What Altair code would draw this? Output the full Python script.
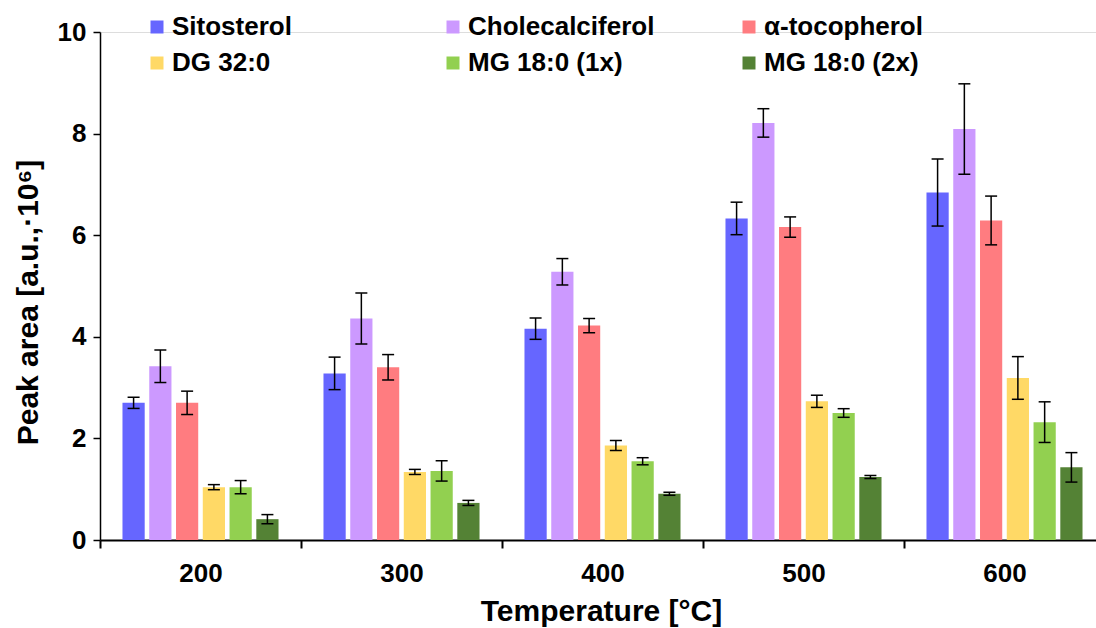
import altair as alt
import pandas as pd

temps = ["200", "300", "400", "500", "600"]
series = ["Sitosterol", "Cholecalciferol", "α-tocopherol", "DG 32:0", "MG 18:0 (1x)", "MG 18:0 (2x)"]
colors = ["#6666FF", "#CC99FF", "#FF7C80", "#FFD966", "#92D050", "#548235"]

sito = [2.70, 3.28, 4.16, 6.33, 6.84]
sito_err = [0.11, 0.32, 0.21, 0.32, 0.66]
chole = [3.42, 4.36, 5.28, 8.21, 8.09]
chole_err = [0.32, 0.50, 0.26, 0.28, 0.89]
toc = [2.70, 3.40, 4.22, 6.16, 6.29]
toc_err = [0.23, 0.25, 0.14, 0.20, 0.48]
dg = [1.04, 1.34, 1.86, 2.73, 3.19]
dg_err = [0.05, 0.05, 0.10, 0.12, 0.42]
mg1 = [1.04, 1.36, 1.55, 2.50, 2.32]
mg1_err = [0.13, 0.20, 0.07, 0.085, 0.40]
mg2 = [0.41, 0.73, 0.91, 1.24, 1.43]
mg2_err = [0.09, 0.05, 0.03, 0.03, 0.29]

vals = [sito, chole, toc, dg, mg1, mg2]
errs = [sito_err, chole_err, toc_err, dg_err, mg1_err, mg2_err]

rows = []
for s, v, e in zip(series, vals, errs):
    for t, vi, ei in zip(temps, v, e):
        rows.append({"temp": t, "series": s, "value": vi, "lo": vi - ei, "hi": vi + ei})
df = pd.DataFrame(rows)

FONT = "Liberation Sans"

x_enc = alt.X(
    "temp:N", sort=temps,
    scale=alt.Scale(range=[0, 1005], paddingInner=0, paddingOuter=0),
    axis=alt.Axis(
        title="Temperature [°C]", labelAngle=0, tickBand="extent", tickSize=8,
        labelPadding=12, labelFontSize=26, labelFontWeight="bold", labelFont=FONT,
        labelColor="black", titleFontSize=30, titleFontWeight="bold", titleFont=FONT,
        titleColor="black", domainColor="black", domainWidth=2, tickColor="black",
        tickWidth=2, titleX=501, titleY=80, titleBaseline="alphabetic",
        titleAlign="center", grid=False,
    ),
)
xoff = alt.XOffset("series:N", sort=series, scale=alt.Scale(paddingInner=0.17, paddingOuter=0.84))

y_axis = alt.Axis(
    title="Peak area [a.u.,·10⁶]", values=[0, 2, 4, 6, 8, 10], grid=False,
    tickSize=7, labelPadding=7, labelFontSize=26, labelFontWeight="bold",
    labelFont=FONT, labelColor="black", titleFontSize=30, titleFontWeight="bold",
    titleFont=FONT, titleColor="black", domainColor="black", domainWidth=1.5,
    tickColor="black", tickWidth=1.5, titleX=-63, titleY=270,
    titleBaseline="alphabetic", titleAlign="center", titleAngle=270,
)
y_scale = alt.Scale(domain=[0, 10], nice=False)

bars = alt.Chart(df).mark_bar().encode(
    x=x_enc,
    xOffset=xoff,
    y=alt.Y("value:Q", scale=y_scale, axis=y_axis),
    color=alt.Color(
        "series:N", sort=series,
        scale=alt.Scale(domain=series, range=colors),
        legend=alt.Legend(
            title=None, orient="none", legendX=44, legendY=-18, columns=3,
            direction="horizontal",
            gridAlign="all", columnPadding=81, rowPadding=10,
            symbolType="square", symbolSize=169, symbolStrokeWidth=0,
            symbolOpacity=1, labelFontSize=26, labelFontWeight="bold",
            labelFont=FONT, labelColor="black", labelOffset=2, labelLimit=400,
        ),
    ),
)

rule = alt.Chart(df).mark_rule(color="black", strokeWidth=1.5).encode(
    x=alt.X("temp:N", sort=temps),
    xOffset=xoff,
    y=alt.Y("lo:Q", scale=y_scale),
    y2="hi:Q",
)
cap_lo = alt.Chart(df).mark_tick(color="black", thickness=1.5, size=12, opacity=1).encode(
    x=alt.X("temp:N", sort=temps),
    xOffset=xoff,
    y=alt.Y("lo:Q", scale=y_scale),
)
cap_hi = alt.Chart(df).mark_tick(color="black", thickness=1.5, size=12, opacity=1).encode(
    x=alt.X("temp:N", sort=temps),
    xOffset=xoff,
    y=alt.Y("hi:Q", scale=y_scale),
)

chart = alt.layer(bars, rule, cap_lo, cap_hi).properties(
    width=996, height=508,
    autosize=alt.AutoSizeParams(type="none"),
    padding={"left": 100, "top": 32, "right": 0, "bottom": 88},
).configure_view(strokeWidth=0).configure(font=FONT)

chart.save("out.html", embed_options={"renderer": "svg", "actions": False})
